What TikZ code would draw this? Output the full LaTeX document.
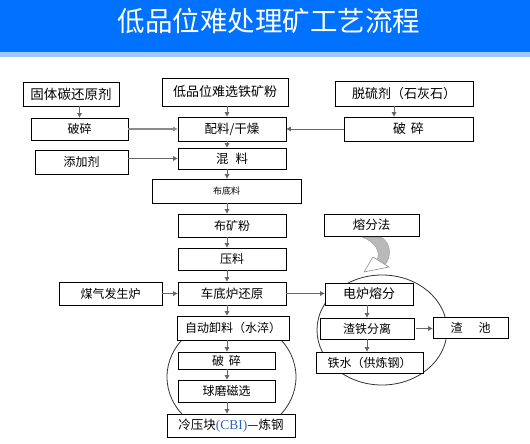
\documentclass[tikz,border=0pt]{standalone}
\usepackage{fontspec}
\setmainfont{Noto Sans CJK SC}
\newfontfamily\cbifont{Liberation Serif}
\usetikzlibrary{arrows.meta,positioning,calc}
\definecolor{titleblue}{HTML}{0072FF}
\definecolor{stripblue}{HTML}{9CC8FF}
\definecolor{linegray}{HTML}{666666}
\definecolor{cbiblue}{HTML}{2F63C0}
\tikzset{
  box/.style={rectangle,draw=black,line width=0.8pt,fill=white,inner sep=0pt,align=center,font=\fontsize{12}{14}\selectfont},
  bigbox/.style={box,font=\fontsize{13.5}{16}\selectfont},
  arr/.style={-{Triangle[length=4.5pt,width=4.5pt]},line width=0.9pt,linegray},
  arrwide/.style={arr,line width=1.5pt,draw=linegray!75},
  ring/.style={line width=0.8pt,draw=black!80}
}

\begin{document}
\begin{tikzpicture}[x=1pt,y=-1pt]
    \useasboundingbox (0,0) rectangle (530,444);
    \fill[titleblue] (0,0) rectangle (530,52);
    \fill[stripblue] (0,52) rectangle (530,57);
    \node[text=white,font=\fontsize{27.5}{30}\selectfont] (title) at (269,21) {低品位难处理矿工艺流程};
    \draw[ring] (231.5,377) ellipse [x radius=64.5pt,y radius=58pt];
    \draw[ring] (382,330) ellipse [x radius=65pt,y radius=55pt];
    \coordinate (axis) at (227,0);
    \node[bigbox,minimum width=96pt,minimum height=24pt] (gtj) at (71,94) {固体碳还原剂};
    \node[bigbox,minimum width=126pt,minimum height=28pt,font=\fontsize{13}{16}\selectfont] (dpw) at (225,92) {低品位难选铁矿粉};
    \node[bigbox,minimum width=138pt,minimum height=25pt,font=\fontsize{13}{16}\selectfont] (tlj) at (404,93.5) {脱硫剂（石灰石）};
    \node[box,minimum width=97pt,minimum height=22pt] (psl) at (79.5,129) {破碎};
    \node[box,minimum width=108pt,minimum height=24pt,font=\fontsize{12.5}{15}\selectfont] (plgz) at (232,129) {配料/干燥};
    \node[box,minimum width=129pt,minimum height=24pt,font=\fontsize{13}{15}\selectfont] (psr) at (408.5,129) {破\hspace{5pt}碎};
    \node[box,minimum width=93pt,minimum height=24pt] (tjj) at (81.5,162) {添加剂};
    \node[box,minimum width=108pt,minimum height=21pt,font=\fontsize{12.5}{15}\selectfont] (hl) at (232,158.5) {混\hspace{7pt}料};
    \node[box,minimum width=149pt,minimum height=24pt,font=\fontsize{9}{11}\selectfont] (bdl) at (226.5,191) {布底料};
    \node[box,minimum width=108pt,minimum height=23pt] (bkf) at (232,225.5) {布矿粉};
    \node[box,minimum width=108pt,minimum height=22pt] (yl) at (232,259) {压料};
    \node[box,minimum width=103pt,minimum height=23pt] (mq) at (110.5,293.5) {煤气发生炉};
    \node[box,minimum width=108pt,minimum height=23pt,font=\fontsize{12.5}{15}\selectfont] (cdl) at (232,293.5) {车底炉还原};
    \node[box,minimum width=112pt,minimum height=24pt] (zdxl) at (233,328) {自动卸料（水淬）};
    \node[box,minimum width=97pt,minimum height=17pt] (psd) at (226.5,360.5) {破\hspace{5pt}碎};
    \node[box,minimum width=97pt,minimum height=22pt] (qm) at (226.5,391) {球磨磁选};
    \node[box,minimum width=128pt,minimum height=23pt,font=\fontsize{12.5}{15}\selectfont] (lyk) at (231,425.5) {冷压块\textcolor{cbiblue}{\cbifont\fontsize{13.5}{15}\selectfont(CBI)}—炼钢};
    \node[box,minimum width=95pt,minimum height=22pt,font=\fontsize{12.5}{15}\selectfont] (rff) at (371.5,225) {熔分法};
    \node[box,minimum width=88pt,minimum height=22pt,font=\fontsize{13}{15}\selectfont] (dl) at (369,294) {电炉熔分};
    \node[box,minimum width=94pt,minimum height=21pt] (ztfl) at (367,328.5) {渣铁分离};
    \node[box,minimum width=75pt,minimum height=21pt] (zc) at (470.5,327.5) {渣\hspace{16pt}池};
    \node[box,minimum width=107pt,minimum height=21pt] (ts) at (369.5,362.5) {铁水（供炼钢）};
    \fill[gray!55,draw=gray!75,line width=0.5pt] (362,237) -- (381,237) .. controls (392,244) and (391,257) .. (385,265) -- (377,260) .. controls (381,251) and (375,242) .. cycle;
    \filldraw[fill=white,draw=gray!85,line width=0.6pt] (373,257) -- (389,267) -- (364,272) -- cycle;
    \draw[arr] (gtj.south -| psl.north) -- (psl.north);
    \draw[arrwide] (psl) -- (plgz);
    \draw[arr] (tjj.east |- hl) -- (hl.west);
    \draw[arr] (dpw.south -| axis) -- (plgz.north -| axis);
    \draw[arr] ([xshift=-10pt]tlj.south) -- ([xshift=-14.5pt]psr.north);
    \draw[arr] (psr) -- (plgz);
    \draw[arr] (plgz.south -| axis) -- (hl.north -| axis);
    \draw[arr] (hl.south -| axis) -- (bdl.north -| axis);
    \draw[arr] (bdl.south -| axis) -- (bkf.north -| axis);
    \draw[arr] (bkf.south -| axis) -- (yl.north -| axis);
    \draw[arr] (yl.south -| axis) -- (cdl.north -| axis);
    \draw[arr] (mq) -- (cdl);
    \draw[arr] (cdl.east) -- (cdl.east -| dl.west);
    \draw[arr] (cdl.south -| axis) -- (zdxl.north -| axis);
    \draw[arr] (zdxl.south -| axis) -- (psd.north -| axis);
    \draw[arr] (psd.south -| axis) -- (qm.north -| axis);
    \draw[arr] (qm.south -| axis) -- (lyk.north -| axis);
    \draw[arr] (dl.south -| ztfl.north) -- (ztfl.north);
    \draw[arr] (ztfl.south) -- (ztfl.south |- ts.north);
    \draw[arr,shorten <=2pt] (ztfl.east) -- (ztfl.east -| zc.west);
  \end{tikzpicture}
\end{document}
